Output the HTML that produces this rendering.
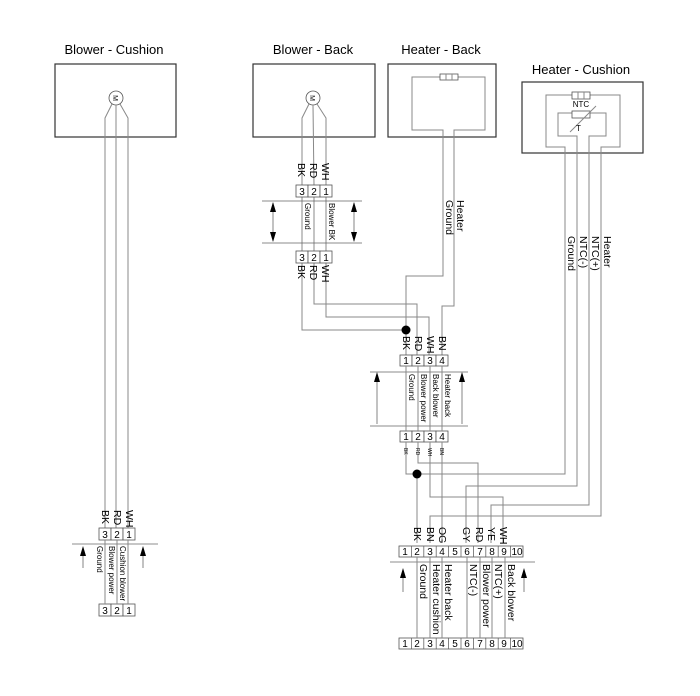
<!DOCTYPE html>
<html><head><meta charset="utf-8"><style>
html,body{margin:0;padding:0;background:#fff}
svg{display:block}
text{font-family:"Liberation Sans",sans-serif;fill:#000}
.w{stroke:#888;stroke-width:1;fill:none}
.b{stroke:#333;stroke-width:1.2;fill:none}
.c{stroke:#555;stroke-width:0.8;fill:#fff}
.t{font-size:13px}
.l{font-size:10.5px}
.s{font-size:8px}
.n{font-size:10px}
.d{stroke:#666;stroke-width:0.8;fill:none}
</style></head><body>
<svg width="700" height="696" viewBox="0 0 700 696" xmlns="http://www.w3.org/2000/svg">
<text class="t" x="114" y="54" text-anchor="middle">Blower - Cushion</text>
<text class="t" x="313" y="54" text-anchor="middle">Blower - Back</text>
<text class="t" x="441" y="54" text-anchor="middle">Heater - Back</text>
<text class="t" x="581" y="74" text-anchor="middle">Heater - Cushion</text>

<rect class="b" x="55" y="64" width="121" height="73"/>
<rect class="b" x="253" y="64" width="122" height="73"/>
<rect class="b" x="388" y="64" width="108" height="73"/>
<rect class="b" x="522" y="82" width="121" height="71"/>

<circle class="c" cx="116" cy="98" r="7"/>
<text x="116" y="101" font-size="7" text-anchor="middle" fill="#888" transform="rotate(90 116 98)">M</text>
<path class="w" d="M112,104 L105,118 L105,528 M116,105 L116,528 M120,104 L128,118 L128,528"/>
<circle class="c" cx="313" cy="98" r="7"/>
<text x="313" y="101" font-size="7" text-anchor="middle" fill="#888" transform="rotate(90 313 98)">M</text>
<path class="w" d="M309,104 L302,118 L302,185 M313,105 L314,185 M317,104 L326,118 L326,185"/>
<path class="w" d="M302,197 L302,251 M314,197 L314,251 M326,197 L326,251"/>
<path class="w" d="M443,137 L443,130 L412,130 L412,77 L440,77 M458,77 L485,77 L485,130 L454,130 L454,137"/>
<rect class="c" x="440" y="74" width="18" height="6"/>
<path class="w" d="M446,74v6M452,74v6"/>
<path class="w" d="M565,153 L565,147 L546,147 L546,95 L572,95 M590,95 L620,95 L620,147 L601,147 L601,153"/>
<rect class="c" x="572" y="92" width="18" height="7"/>
<path class="w" d="M578,92v7M584,92v7"/>
<text x="581" y="107" font-size="8" fill="#888" text-anchor="middle">NTC</text>
<path class="w" d="M577,153 L577,136 L558,136 L558,113 L572,113 M590,113 L606,113 L606,136 L589,136 L589,153"/>
<rect class="c" x="572" y="111" width="18" height="7"/>
<path class="w" d="M570,132 L596,106"/>
<text x="576" y="131" font-size="8" fill="#888">T</text>

<path class="w" d="M565,153 L565,474 L417,474"/>
<path class="w" d="M577,153 L577,486 L466,486 L466,543"/>
<path class="w" d="M589,153 L589,505 L491,505 L491,543"/>
<path class="w" d="M601,153 L601,516 L430,516 L430,543"/>
<text class="l" transform="translate(568,236) rotate(90)">Ground</text>
<text class="l" transform="translate(580,236) rotate(90)">NTC(-)</text>
<text class="l" transform="translate(592,236) rotate(90)">NTC(+)</text>
<text class="l" transform="translate(604,236) rotate(90)">Heater</text>

<path class="w" d="M443,137 L443,276 L406,276 L406,330"/>
<path class="w" d="M454,137 L454,306 L442,306 L442,355"/>
<text class="l" transform="translate(446,200) rotate(90)">Ground</text>
<text class="l" transform="translate(457,200) rotate(90)">Heater</text>

<path class="w" d="M302,263 L302,330 L406,330"/>
<path class="w" d="M314,263 L314,304 L417,304 L417,355"/>
<path class="w" d="M326,263 L326,317 L429,317 L429,355"/>
<path class="w" d="M406,330 L406,355"/>
<circle cx="406" cy="330" r="4.5" fill="#000"/>

<g>
<rect class="c" x="296" y="185" width="12" height="12"/><rect class="c" x="308" y="185" width="12" height="12"/><rect class="c" x="320" y="185" width="12" height="12"/>
<text class="n" x="302" y="195" text-anchor="middle">3</text><text class="n" x="314" y="195" text-anchor="middle">2</text><text class="n" x="326" y="195" text-anchor="middle">1</text>
<rect class="c" x="296" y="251" width="12" height="12"/><rect class="c" x="308" y="251" width="12" height="12"/><rect class="c" x="320" y="251" width="12" height="12"/>
<text class="n" x="302" y="261" text-anchor="middle">3</text><text class="n" x="314" y="261" text-anchor="middle">2</text><text class="n" x="326" y="261" text-anchor="middle">1</text>
</g>
<text class="l" transform="translate(298,163) rotate(90)">BK</text>
<text class="l" transform="translate(310,163) rotate(90)">RD</text>
<text class="l" transform="translate(322,163) rotate(90)">WH</text>
<text class="l" transform="translate(298,265) rotate(90)">BK</text>
<text class="l" transform="translate(310,265) rotate(90)">RD</text>
<text class="l" transform="translate(322,265) rotate(90)">WH</text>
<path class="d" d="M262,201 L362,201 M262,243 L362,243"/>
<path class="d" d="M273,203 L273,241 M354,203 L354,241"/>
<path d="M270,212 L273,202 L276,212Z M270,232 L273,242 L276,232Z M351,212 L354,202 L357,212Z M351,232 L354,242 L357,232Z" fill="#000"/>
<text class="s" transform="translate(305,203) rotate(90)">Ground</text>
<text class="s" transform="translate(329,203) rotate(90)">Blower BK</text>

<g>
<rect class="c" x="400" y="355" width="12" height="11"/><rect class="c" x="412" y="355" width="12" height="11"/><rect class="c" x="424" y="355" width="12" height="11"/><rect class="c" x="436" y="355" width="12" height="11"/>
<text class="n" x="406" y="364" text-anchor="middle">1</text><text class="n" x="418" y="364" text-anchor="middle">2</text><text class="n" x="430" y="364" text-anchor="middle">3</text><text class="n" x="442" y="364" text-anchor="middle">4</text>
<rect class="c" x="400" y="431" width="12" height="11"/><rect class="c" x="412" y="431" width="12" height="11"/><rect class="c" x="424" y="431" width="12" height="11"/><rect class="c" x="436" y="431" width="12" height="11"/>
<text class="n" x="406" y="440" text-anchor="middle">1</text><text class="n" x="418" y="440" text-anchor="middle">2</text><text class="n" x="430" y="440" text-anchor="middle">3</text><text class="n" x="442" y="440" text-anchor="middle">4</text>
</g>
<text class="l" transform="translate(403,336) rotate(90)">BK</text>
<text class="l" transform="translate(415,336) rotate(90)">RD</text>
<text class="l" transform="translate(427,336) rotate(90)">WH</text>
<text class="l" transform="translate(439,336) rotate(90)">BN</text>
<path class="d" d="M370,372 L468,372 M370,426 L468,426"/>
<path class="w" d="M406,366v65M418,366v65M430,366v65M442,366v65"/>
<path d="M374,382 L377,372 L380,382Z M459,382 L462,372 L465,382Z" fill="#000"/>
<path class="d" d="M377,382v42 M462,382v42"/>
<text class="s" transform="translate(409,374) rotate(90)">Ground</text>
<text class="s" transform="translate(421,374) rotate(90)">Blower power</text>
<text class="s" transform="translate(433,374) rotate(90)">Back blower</text>
<text class="s" transform="translate(445,374) rotate(90)">Heater back</text>

<path class="w" d="M406,442 L406,474 L417,474 L417,543"/>
<circle cx="417" cy="474" r="4.5" fill="#000"/>
<path class="w" d="M418,442 L418,463 L478,463 L478,543"/>
<path class="w" d="M430,442 L430,497 L503,497 L503,543"/>
<path class="w" d="M442,442 L442,543"/>
<text font-size="5" transform="translate(404,448) rotate(90)">BK</text>
<text font-size="5" transform="translate(416,448) rotate(90)">RD</text>
<text font-size="5" transform="translate(428,448) rotate(90)">WH</text>
<text font-size="5" transform="translate(440,448) rotate(90)">BN</text>

<g id="c10">
<rect class="c" x="399" y="546" width="124" height="11"/>
<path class="d" d="M411.4,546v11M423.8,546v11M436.2,546v11M448.6,546v11M461,546v11M473.4,546v11M485.8,546v11M498.2,546v11M510.6,546v11"/>
<text class="n" x="405" y="555" text-anchor="middle">1</text><text class="n" x="417" y="555" text-anchor="middle">2</text><text class="n" x="430" y="555" text-anchor="middle">3</text><text class="n" x="442" y="555" text-anchor="middle">4</text><text class="n" x="455" y="555" text-anchor="middle">5</text><text class="n" x="467" y="555" text-anchor="middle">6</text><text class="n" x="480" y="555" text-anchor="middle">7</text><text class="n" x="492" y="555" text-anchor="middle">8</text><text class="n" x="504" y="555" text-anchor="middle">9</text><text class="n" x="517" y="555" text-anchor="middle">10</text>
</g>
<use href="#c10" y="92"/>
<text class="l" transform="translate(414,527) rotate(90)">BK</text>
<text class="l" transform="translate(427,527) rotate(90)">BN</text>
<text class="l" transform="translate(439,527) rotate(90)">OG</text>
<text class="l" transform="translate(463,527) rotate(90)">GY</text>
<text class="l" transform="translate(476,527) rotate(90)">RD</text>
<text class="l" transform="translate(488,527) rotate(90)">YE</text>
<text class="l" transform="translate(500,527) rotate(90)">WH</text>
<path class="d" d="M390,562 L535,562"/>
<path class="w" d="M417,557v81M430,557v81M442,557v81M467,557v81M480,557v81M492,557v81M505,557v81"/>
<path d="M400,578 L403,568 L406,578Z M521,578 L524,568 L527,578Z" fill="#000"/>
<path class="d" d="M403,578v14 M524,578v14"/>
<text class="l" transform="translate(420,564) rotate(90)">Ground</text>
<text class="l" transform="translate(433,564) rotate(90)">Heater cushion</text>
<text class="l" transform="translate(445,564) rotate(90)">Heater back</text>
<text class="l" transform="translate(470,564) rotate(90)">NTC(-)</text>
<text class="l" transform="translate(483,564) rotate(90)">Blower power</text>
<text class="l" transform="translate(495,564) rotate(90)">NTC(+)</text>
<text class="l" transform="translate(508,564) rotate(90)">Back blower</text>

<g>
<rect class="c" x="99" y="528" width="12" height="12"/><rect class="c" x="111" y="528" width="12" height="12"/><rect class="c" x="123" y="528" width="12" height="12"/>
<text class="n" x="105" y="538" text-anchor="middle">3</text><text class="n" x="117" y="538" text-anchor="middle">2</text><text class="n" x="129" y="538" text-anchor="middle">1</text>
<rect class="c" x="99" y="604" width="12" height="12"/><rect class="c" x="111" y="604" width="12" height="12"/><rect class="c" x="123" y="604" width="12" height="12"/>
<text class="n" x="105" y="614" text-anchor="middle">3</text><text class="n" x="117" y="614" text-anchor="middle">2</text><text class="n" x="129" y="614" text-anchor="middle">1</text>
</g>
<text class="l" transform="translate(102,510) rotate(90)">BK</text>
<text class="l" transform="translate(114,510) rotate(90)">RD</text>
<text class="l" transform="translate(126,510) rotate(90)">WH</text>
<path class="d" d="M72,544 L158,544"/>
<path class="w" d="M105,540v64M117,540v64M128,540v64"/>
<path d="M80,556 L83,546 L86,556Z M140,556 L143,546 L146,556Z" fill="#000"/>
<path class="d" d="M83,556v12 M143,556v12"/>
<text class="s" transform="translate(97,546) rotate(90)">Ground</text>
<text class="s" transform="translate(109,546) rotate(90)">Blower power</text>
<text class="s" transform="translate(120,546) rotate(90)">Cushion blower</text>
</svg>
</body></html>
